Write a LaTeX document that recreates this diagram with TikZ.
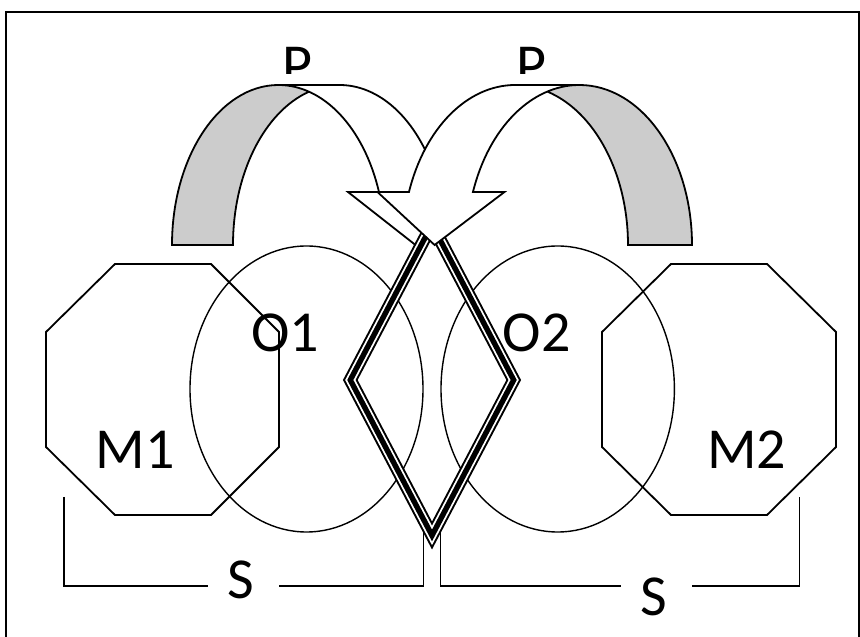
\documentclass[tikz,border=0pt]{standalone}
\usepackage{fontspec}
\setmainfont{Carlito}
\begin{document}
\begin{tikzpicture}[x=1pt,y=1pt,
  ln/.style={line width=1.8pt, line join=miter},
  el/.style={line width=1.4pt},
  br/.style={line width=1.6pt},
  lbl/.style={font=\fontsize{58pt}{60pt}\selectfont, inner sep=0pt},
  backband/.style={fill=black!20},
  frontband/.style={fill=white},
  ]
\useasboundingbox (0,0) rectangle (860,637);

% frame
\draw[line width=1.8pt] (6,-5) -- (6,625) -- (859.3,625) -- (859.3,-5);

% ellipses O1, O2
\draw[el] (306.5,248) ellipse[x radius=116.5pt, y radius=143pt];
\draw[el] (557.7,248) ellipse[x radius=116.7pt, y radius=143pt];

% octagons M1, M2
\draw[ln] (115,373) -- (211,373) -- (279,305) -- (279,190) -- (211,122) -- (115,122) -- (46,190) -- (46,305) -- cycle;
\draw[ln] (671,373) -- (767,373) -- (836,305) -- (836,190) -- (767,122) -- (671,122) -- (602,190) -- (602,305) -- cycle;

% brackets S
\coordinate (bl1) at (64,140);
\coordinate (bl2) at (423.3,110);
\coordinate (br1) at (440.5,110);
\coordinate (br2) at (799.3,140);
\draw[br] (bl1) -- (64,51) -- (208,51);
\draw[br] (279,51) -- (423.3,51) -- (bl2);
\draw[br] (br1) -- (440.5,51) -- (621,51);
\draw[br] (692,51) -- (799.3,51) -- (br2);

% left curved arrow
\path[frontband] (415.5,392) -- (347.98,445) -- (378.98,445)
  arc[start angle=19.35, end angle=90, x radius=106.5pt, y radius=160pt]
  -- (339.5,552)
  arc[start angle=90, end angle=19.35, x radius=106.5pt, y radius=160pt]
  -- (470.98,445) -- cycle;
\path[backband] (309,545.3)
  arc[start angle=106.64, end angle=180, x radius=106.5pt, y radius=160pt]
  -- (172,392)
  arc[start angle=180, end angle=73.36, x radius=106.5pt, y radius=160pt]
  -- cycle;
\draw[ln] (309,545.3)
  arc[start angle=106.64, end angle=180, x radius=106.5pt, y radius=160pt]
  -- (172,392)
  arc[start angle=180, end angle=90, x radius=106.5pt, y radius=160pt]
  -- (339.5,552)
  arc[start angle=90, end angle=19.35, x radius=106.5pt, y radius=160pt]
  -- (470.98,445) -- (415.5,392) -- (347.98,445) -- (378.98,445)
  arc[start angle=19.35, end angle=90, x radius=106.5pt, y radius=160pt];

% diamond with thin-thick-thin line
\coordinate (dt) at (432,412.5);
\coordinate (dl) at (350.3,257);
\coordinate (db) at (432,101.5);
\coordinate (dr) at (513.7,257);
\draw[line width=13pt, line join=miter] (dt) -- (dl) -- (db) -- (dr) -- cycle;
\draw[line width=9pt, white, line join=miter] (dt) -- (dl) -- (db) -- (dr) -- cycle;
\draw[line width=5.4pt, line join=miter] (dt) -- (dl) -- (db) -- (dr) -- cycle;

% right curved arrow
\path[frontband] (434.6,392) -- (504.47,445) -- (472.97,445)
  arc[start angle=160.65, end angle=90, x radius=112.7pt, y radius=160pt]
  -- (515.3,552)
  arc[start angle=90, end angle=160.65, x radius=112.7pt, y radius=160pt]
  -- (377.47,445) -- cycle;
\path[backband] (547.3,545.41)
  arc[start angle=73.5, end angle=0, x radius=112.7pt, y radius=160pt]
  -- (692,392)
  arc[start angle=0, end angle=106.5, x radius=112.7pt, y radius=160pt]
  -- cycle;
\draw[ln] (547.3,545.41)
  arc[start angle=73.5, end angle=0, x radius=112.7pt, y radius=160pt]
  -- (692,392)
  arc[start angle=0, end angle=90, x radius=112.7pt, y radius=160pt]
  -- (515.3,552)
  arc[start angle=90, end angle=160.65, x radius=112.7pt, y radius=160pt]
  -- (377.47,445) -- (434.6,392) -- (504.47,445) -- (472.97,445)
  arc[start angle=160.65, end angle=90, x radius=112.7pt, y radius=160pt];

% labels
\node[lbl] (o1) at (285,304) {O1};
\node[lbl] (m1) at (135,187.5) {M1};
\node[lbl] (o2) at (536.7,304) {O2};
\node[lbl] (m2) at (746.7,187.5) {M2};
\node[lbl] (s1) at (241,57) {S};
\node[lbl] (s2) at (654,40.3) {S};
\begin{scope}
  \clip (0,563) rectangle (860,637);
  \node[lbl, anchor=base] (p1) at (297.5,552) {P};
  \node[lbl, anchor=base] (p2) at (531,552) {P};
\end{scope}
\end{tikzpicture}
\end{document}
